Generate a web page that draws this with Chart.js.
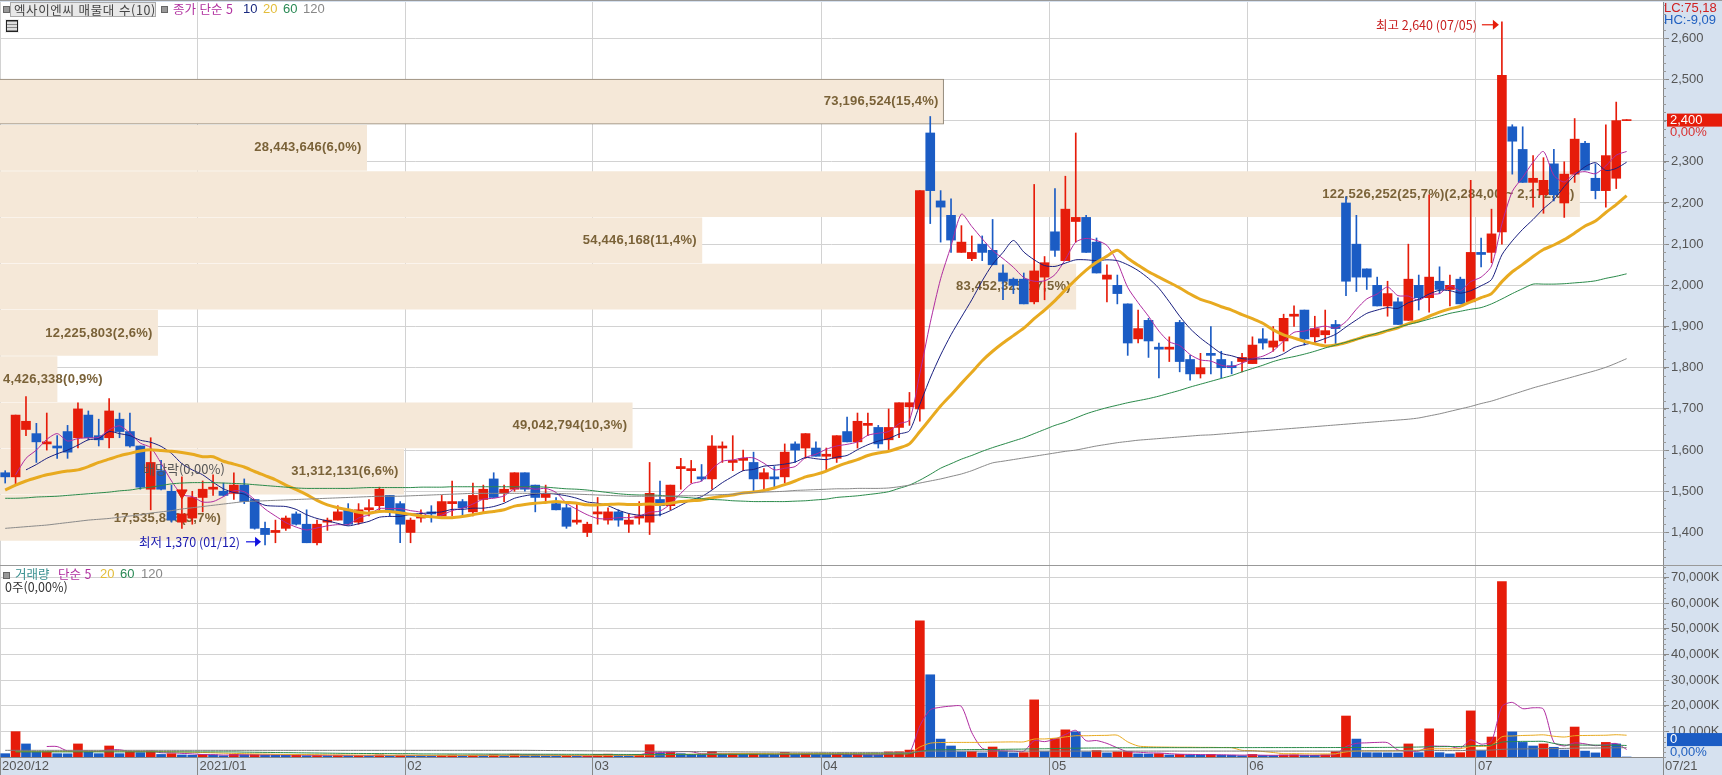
<!DOCTYPE html>
<html lang="ko"><head><meta charset="utf-8"><title>엑사이엔씨 매물대</title>
<style>
html,body{margin:0;padding:0;background:#d6e1ef;width:1722px;height:775px;overflow:hidden}
canvas{position:absolute;left:0}
#priceC{top:0}#volC{top:565px}
.t{position:absolute;font:13px "Liberation Sans","Noto Sans CJK KR",sans-serif;white-space:nowrap;line-height:14px}
.k{font-family:"Noto Sans CJK KR","Liberation Sans",sans-serif;font-size:12.5px}
.b{position:absolute;width:5px;height:5px;background:#999;border:1px solid #666;box-sizing:content-box}
</style>
<script src="https://cdn.jsdelivr.net/npm/chart.js@4"></script>
</head><body>
<canvas id="priceC" width="1722" height="565"></canvas>
<canvas id="volC" width="1722" height="210"></canvas>
<div class="b" style="left:3px;top:6px"></div>
<div class="t k" style="left:10px;top:2px;width:141px;height:13px;background:#e8e8e8;border:1px solid #aaa;padding-left:3px;color:#444;letter-spacing:.6px">엑사이엔씨 매물대 수(10)</div>
<div class="b" style="left:161px;top:6px"></div>
<div class="t k" style="left:173px;top:2px;color:#b0309f">종가 단순 5</div>
<div class="t" style="left:243px;top:2px;color:#1a2a80">10</div>
<div class="t" style="left:263px;top:2px;color:#e3bd3a">20</div>
<div class="t" style="left:283px;top:2px;color:#2a8a55">60</div>
<div class="t" style="left:303px;top:2px;color:#888">120</div>
<div style="position:absolute;left:6px;top:20px;width:10px;height:10px;border:1px solid #222;outline:1px solid #eee;background:repeating-linear-gradient(0deg,#888 0 1px,#ddd 1px 3px)"></div>
<div class="b" style="left:3px;top:572px"></div>
<div class="t k" style="left:15px;top:567px;color:#3a9090">거래량</div>
<div class="t k" style="left:58px;top:567px;color:#b0309f">단순 5</div>
<div class="t" style="left:100px;top:567px;color:#e3bd3a">20</div>
<div class="t" style="left:120px;top:567px;color:#2a8a55">60</div>
<div class="t" style="left:141px;top:567px;color:#888">120</div>
<div class="t k" style="left:5px;top:580px;color:#333">0주(0,00%)</div>
<div class="t" style="left:1664px;top:1px;color:#d02020">LC:75,18</div>
<div class="t" style="left:1664px;top:13px;color:#2060c0">HC:-9,09</div>
<script>
const dates=['12/03','12/04','12/07','12/08','12/09','12/10','12/11','12/14','12/15','12/16','12/17','12/18','12/21','12/22','12/23','12/24','12/28','12/29','12/30',
'01/04','01/05','01/06','01/07','01/08','01/11','01/12','01/13','01/14','01/15','01/18','01/19','01/20','01/21','01/22','01/25','01/26','01/27','01/28','01/29',
'02/01','02/02','02/03','02/04','02/05','02/08','02/09','02/10','02/15','02/16','02/17','02/18','02/19','02/22','02/23','02/24','02/25','02/26',
'03/02','03/03','03/04','03/05','03/08','03/09','03/10','03/11','03/12','03/15','03/16','03/17','03/18','03/19','03/22','03/23','03/24','03/25','03/26','03/29','03/30','03/31',
'04/01','04/02','04/05','04/06','04/07','04/08','04/09','04/12','04/13','04/14','04/15','04/16','04/19','04/20','04/21','04/22','04/23','04/26','04/27','04/28','04/29','04/30',
'05/03','05/04','05/06','05/07','05/10','05/11','05/12','05/13','05/14','05/17','05/18','05/20','05/21','05/24','05/25','05/26','05/27','05/28','05/31',
'06/01','06/02','06/03','06/04','06/07','06/08','06/09','06/10','06/11','06/14','06/15','06/16','06/17','06/18','06/21','06/22','06/23','06/24','06/25','06/28','06/29','06/30',
'07/01','07/02','07/05','07/06','07/07','07/08','07/09','07/12','07/13','07/14','07/15','07/16','07/19','07/20','07/21','','',''];
const monthCells=[0,19,39,57,79,101,120,142,160];
const monthLabels=['2020/12','2021/01','02','03','04','05','06','07','07/21'];
const opens=[1545,1535,1650,1640,1615,1610,1645,1630,1685,1635,1630,1675,1645,1610,1505,1550,1500,1425,1435,1485,1505,1500,1495,1515,1480,1410,1400,1410,1445,1420,1375,1425,1430,1455,1425,1455,1465,1490,1470,1400,1435,1450,1440,1470,1475,1450,1480,1530,1495,1505,1545,1515,1485,1470,1460,1425,1400,1445,1430,1450,1420,1435,1425,1480,1465,1555,1550,1535,1530,1605,1570,1575,1570,1530,1535,1535,1615,1605,1605,1585,1580,1645,1620,1660,1655,1625,1655,1705,1700,2370,2205,2170,2080,2065,2100,2085,2030,2015,2015,1960,2020,2130,2060,2155,2165,2105,2015,2000,1955,1870,1915,1850,1845,1910,1820,1785,1835,1820,1805,1815,1810,1870,1850,1865,1925,1940,1875,1880,1905,2200,2100,2040,2000,1950,1960,1915,2000,1970,2010,1990,2015,1960,2080,2080,2130,2385,2330,2250,2220,2295,2200,2270,2345,2260,2230,2260,2400];
const highs=[1550,1685,1730,1665,1690,1635,1660,1715,1695,1675,1725,1690,1690,1610,1630,1575,1515,1535,1500,1525,1540,1520,1545,1530,1480,1425,1430,1440,1450,1455,1430,1435,1465,1470,1470,1480,1510,1490,1475,1435,1455,1465,1490,1525,1480,1520,1515,1545,1515,1545,1545,1515,1515,1485,1475,1470,1425,1485,1460,1455,1445,1475,1570,1525,1515,1580,1575,1565,1635,1620,1635,1600,1595,1555,1560,1615,1620,1640,1620,1605,1635,1680,1690,1690,1660,1700,1715,1740,2230,2410,2230,2210,2145,2120,2120,2160,2050,2018,2030,2245,2070,2235,2265,2370,2170,2115,2050,2025,1955,1940,1920,1860,1875,1915,1830,1835,1900,1840,1815,1835,1875,1895,1900,1930,1950,1940,1925,1940,1915,2215,2170,2040,2020,2010,1970,2100,2025,2220,2045,2025,2020,2255,2115,2185,2640,2390,2385,2315,2310,2330,2300,2405,2350,2295,2390,2445,2400];
const lows=[1520,1515,1635,1570,1600,1580,1580,1605,1625,1610,1605,1630,1607,1505,1455,1503,1425,1410,1420,1450,1490,1488,1480,1470,1408,1370,1375,1405,1418,1375,1370,1405,1430,1418,1420,1440,1450,1440,1375,1375,1425,1425,1440,1440,1440,1440,1450,1485,1475,1500,1500,1450,1475,1455,1410,1420,1390,1420,1420,1415,1400,1420,1395,1440,1455,1505,1520,1525,1505,1570,1550,1550,1500,1505,1510,1520,1570,1580,1585,1550,1570,1620,1605,1635,1605,1600,1630,1660,1670,2150,2105,2080,2080,2060,2060,2050,1965,1980,1955,1955,1965,2070,2060,2105,2080,2030,1960,1955,1830,1860,1825,1775,1815,1790,1770,1775,1785,1775,1785,1790,1810,1845,1840,1840,1900,1855,1860,1860,1855,1975,1985,1990,1950,1925,1905,1915,1940,1935,1980,1950,1955,1960,2045,2055,2100,2270,2250,2190,2175,2205,2165,2250,2280,2210,2190,2235,2400];
const closes=[1535,1685,1670,1620,1620,1605,1595,1700,1630,1625,1695,1645,1610,1510,1570,1505,1430,1445,1485,1505,1510,1490,1515,1475,1410,1395,1405,1435,1420,1375,1420,1430,1450,1420,1455,1460,1505,1450,1420,1430,1440,1445,1475,1475,1460,1490,1505,1485,1505,1545,1505,1485,1495,1455,1415,1430,1420,1450,1450,1430,1430,1440,1495,1465,1515,1560,1555,1530,1610,1610,1575,1580,1530,1545,1530,1595,1600,1640,1585,1590,1635,1620,1670,1665,1615,1655,1715,1715,2230,2230,2190,2110,2105,2080,2080,2050,2010,2000,1955,2035,2055,2085,2185,2165,2080,2030,2025,1980,1860,1895,1865,1845,1850,1815,1785,1800,1830,1800,1800,1825,1855,1860,1865,1920,1930,1870,1895,1890,1895,2010,2020,2020,1950,1980,1905,2015,1970,2020,1990,2000,1955,2080,2075,2125,2510,2350,2250,2260,2255,2220,2270,2355,2280,2230,2315,2400,2400];
const ma5=[null,1540,1580,1600,1626,1640,1622,1628,1630,1631,1649,1659,1641,1617,1606,1568,1525,1492,1487,1474,1475,1487,1501,1499,1480,1457,1440,1424,1413,1406,1411,1416,1419,1419,1435,1443,1458,1458,1458,1453,1449,1437,1442,1453,1459,1469,1481,1483,1489,1506,1509,1505,1507,1497,1471,1456,1443,1434,1433,1436,1436,1440,1449,1452,1469,1495,1518,1525,1554,1573,1576,1581,1581,1568,1552,1556,1560,1582,1590,1602,1610,1614,1620,1636,1641,1645,1664,1673,1786,1909,2016,2095,2173,2143,2113,2085,2065,2044,2019,2010,2011,2026,2063,2105,2114,2109,2097,2056,1995,1958,1925,1889,1863,1854,1832,1819,1816,1806,1803,1811,1822,1828,1841,1865,1886,1889,1896,1901,1896,1912,1942,1967,1979,1996,1975,1974,1964,1978,1980,1999,1987,2009,2020,2047,2149,2228,2262,2299,2325,2267,2251,2272,2276,2271,2290,2316,2325];
const ma10=[null,null,1552,1565,1580,1591,1600,1612,1625,1628,1645,1640,1635,1624,1619,1609,1592,1567,1552,1540,1522,1506,1497,1493,1477,1466,1464,1463,1456,1443,1434,1428,1422,1416,1421,1427,1437,1439,1439,1444,1446,1448,1450,1456,1456,1459,1459,1463,1471,1483,1489,1493,1495,1493,1489,1483,1474,1471,1465,1454,1446,1442,1442,1443,1453,1466,1479,1487,1503,1521,1536,1550,1553,1561,1563,1566,1571,1582,1579,1577,1583,1587,1601,1613,1622,1628,1639,1647,1711,1775,1831,1880,1923,1965,2011,2051,2080,2109,2081,2062,2048,2046,2054,2062,2062,2060,2062,2060,2050,2036,2017,1993,1960,1925,1895,1872,1853,1835,1829,1822,1821,1822,1824,1834,1849,1856,1862,1871,1881,1899,1916,1932,1940,1946,1944,1958,1966,1979,1988,1987,1981,1987,1999,2014,2074,2108,2136,2160,2186,2208,2240,2267,2288,2298,2279,2284,2299];
const ma20=[1503,1515,1525,1533,1540,1545,1549,1552,1560,1570,1578,1586,1592,1598,1601,1599,1597,1594,1590,1584,1584,1573,1566,1559,1548,1538,1528,1515,1504,1492,1478,1467,1460,1455,1449,1447,1451,1451,1448,1444,1440,1438,1436,1436,1439,1443,1448,1451,1455,1464,1468,1471,1473,1475,1473,1471,1467,1467,1468,1469,1468,1468,1469,1468,1471,1475,1477,1479,1484,1488,1491,1496,1498,1502,1508,1516,1525,1535,1541,1549,1560,1569,1577,1587,1593,1597,1605,1615,1645,1676,1707,1734,1762,1789,1817,1840,1860,1878,1896,1919,1940,1963,1989,2014,2037,2056,2071,2085,2066,2049,2033,2020,2007,1994,1979,1966,1958,1948,1940,1929,1919,1908,1892,1880,1872,1864,1858,1853,1855,1861,1869,1877,1882,1890,1897,1907,1914,1925,1935,1943,1949,1960,1970,1980,2009,2033,2051,2070,2087,2098,2111,2127,2144,2156,2177,2196,2218];
const ma60=[1483,1483,1484,1486,1487,1488,1490,1492,1494,1496,1498,1501,1503,1507,1510,1514,1518,1520,1521,1521,1521,1520,1519,1518,1516,1514,1512,1510,1508,1507,1507,1507,1507,1507,1508,1509,1509,1509,1509,1509,1510,1510,1510,1511,1511,1511,1511,1511,1511,1511,1511,1511,1510,1508,1506,1505,1503,1500,1497,1494,1492,1491,1491,1490,1488,1486,1484,1482,1480,1479,1477,1476,1475,1475,1475,1475,1476,1477,1479,1481,1485,1487,1489,1492,1495,1499,1507,1515,1527,1541,1556,1567,1578,1587,1597,1606,1614,1622,1630,1640,1650,1660,1668,1678,1688,1696,1703,1709,1715,1720,1725,1731,1738,1745,1753,1760,1767,1774,1781,1790,1798,1806,1815,1822,1827,1833,1840,1848,1855,1862,1869,1876,1884,1891,1898,1905,1911,1918,1925,1932,1937,1942,1946,1955,1967,1980,1992,2003,2003,2003,2004,2006,2008,2011,2017,2022,2028];
const ma120=[1410,1412,1414,1416,1418,1421,1424,1427,1430,1432,1434,1437,1440,1443,1447,1450,1453,1457,1460,1463,1466,1469,1472,1475,1476,1477,1478,1479,1480,1481,1482,1483,1484,1485,1486,1487,1488,1488,1488,1489,1490,1491,1492,1493,1494,1495,1495,1495,1495,1495,1495,1495,1495,1495,1494,1493,1492,1491,1490,1489,1488,1488,1488,1488,1488,1489,1489,1490,1491,1492,1493,1495,1497,1498,1499,1500,1502,1503,1504,1505,1506,1506,1507,1507,1507,1508,1511,1515,1520,1525,1530,1536,1542,1550,1560,1569,1573,1577,1581,1585,1589,1593,1597,1600,1605,1610,1614,1618,1621,1624,1626,1628,1630,1632,1634,1636,1637,1639,1641,1643,1645,1647,1649,1651,1653,1655,1657,1659,1661,1663,1665,1667,1669,1671,1673,1675,1678,1683,1688,1694,1700,1706,1713,1719,1727,1735,1743,1751,1758,1765,1772,1779,1786,1793,1801,1811,1822];
const exRightsMark=dates.map(d=>d==='12/29'?1496:null);
const volumes=[1300,9900,5100,2000,2100,1300,1250,5100,2000,1300,4300,1300,2000,1700,2300,1000,1300,800,700,1000,800,500,1000,900,1000,800,750,700,900,500,600,450,700,500,650,400,800,500,700,600,450,400,700,800,500,700,600,900,500,1100,800,700,500,450,600,350,450,1000,1100,700,500,1000,4800,1500,1800,1300,900,800,2200,1100,1300,1000,1300,900,800,1800,1000,1300,900,850,1000,800,900,800,750,2000,2050,2700,53200,32100,7000,4300,2000,2100,1600,3900,2300,1600,1700,22300,2100,7200,10600,9800,2000,2500,1600,2000,2100,1200,1150,1300,800,1000,850,800,1000,700,650,500,1000,600,550,800,850,700,650,850,2100,16000,7000,1700,1650,1600,1550,5100,1700,11000,1700,1200,1700,18000,2500,7800,68500,9800,5700,4300,5100,3800,2700,11700,2300,1600,5700,5100,0];
const vma5=[null,null,null,null,4100,4080,2350,2350,2350,2190,2790,2800,2180,2120,2320,1660,1660,1420,1220,960,920,760,800,840,840,840,890,830,830,730,690,630,630,550,580,540,610,570,610,600,610,530,570,590,570,620,660,700,640,760,780,900,720,710,610,520,470,570,700,720,750,860,1620,1700,1920,2080,2060,1260,1400,1260,1260,1280,1380,1120,1060,1160,1160,1160,1160,1170,1010,970,890,870,850,1050,1300,1660,12140,18410,19410,19860,19720,9500,3400,2780,2380,2300,2220,6360,6000,6980,8780,10400,6340,6420,5300,3580,2040,1880,1610,1550,1310,1090,1020,950,890,870,800,730,770,690,660,690,760,700,710,770,1030,4060,5320,5530,5690,5590,2700,2320,2320,4190,4210,4140,3460,6720,5020,6240,19700,21320,18860,19220,18680,5740,4320,5520,5120,4420,4800,5280,2940];
const vma20=[null,2100,2100,2100,2100,2200,2200,2250,2250,2250,2300,2300,2250,2250,2200,2150,2050,1950,1850,1750,1650,1500,1400,1300,1200,1150,1050,1000,950,950,900,850,800,800,750,750,750,700,700,700,650,650,650,650,660,660,660,670,670,680,680,680,680,670,670,660,660,660,670,670,680,720,850,900,950,1000,1050,1100,1150,1250,1300,1350,1350,1350,1300,1300,1300,1350,1350,1350,1350,1350,1350,1300,1300,1300,1350,1400,3900,5400,5650,5700,5700,5700,5700,5800,5850,5900,5900,7000,7050,7350,7850,8300,8300,8400,8450,8500,5900,4300,4000,3900,3850,3800,3800,3750,3750,3700,3650,2600,2500,2150,1750,1300,1300,1250,1200,1200,1250,2000,2300,2350,2350,2350,2400,2600,2650,3150,3200,3200,3250,4100,4150,4500,7900,8200,8400,8500,8650,8100,7800,8300,8400,8450,8500,8700,8500];
const vma60=[null,2000,2000,2000,2000,2000,2000,2000,2000,2000,2000,2000,2000,2000,2000,2000,2000,2000,2000,2000,2000,2000,2000,1900,1850,1800,1750,1700,1650,1600,1550,1500,1450,1400,1380,1360,1340,1320,1300,1300,1200,1190,1180,1170,1160,1150,1140,1130,1120,1110,1100,1090,1080,1070,1060,1050,1040,1030,1020,1010,1000,1000,1000,1000,1010,1020,1020,1030,1030,1040,1050,1060,1070,1080,1090,1100,1110,1120,1130,1140,1150,1160,1170,1180,1190,1200,1220,1300,2200,2700,2800,2850,2850,2900,2900,2950,3000,3050,3100,3200,3200,3300,3400,3450,3500,3520,3550,3600,3600,3620,3630,3640,3650,3650,3650,3650,3660,3660,3660,3670,3670,3680,3680,3680,3680,3690,3690,3690,3700,3700,3700,3720,3740,3760,3780,3850,3880,4000,4050,4080,4100,4400,4450,4600,5800,6000,6100,6100,6100,5300,4700,4700,4650,4650,4600,4600,4500];
const vma120=[2600,2600,2600,2600,2600,2600,2600,2600,2600,2600,2600,2600,2600,2600,2600,2600,2600,2600,2600,2600,2600,2600,2600,2600,2600,2600,2600,2600,2600,2600,2600,2600,2600,2600,2600,2600,2600,2600,2600,2600,2600,2600,2600,2600,2600,2600,2600,2600,2600,2600,2600,2570,2540,2510,2480,2450,2420,2390,2360,2330,2300,2270,2240,2210,2180,2150,2120,2090,2060,2030,2000,1980,1960,1940,1920,1900,1880,1860,1840,1820,1800,1800,1800,1800,1800,1800,1800,1800,2200,2300,2300,2300,2300,2300,2300,2300,2300,2300,2300,2300,2300,2300,2300,2300,2300,2300,2300,2300,2300,2300,2300,2300,2300,2300,2300,2300,2300,2300,2300,2300,2300,2300,2300,2300,2300,2300,2300,2300,2300,2350,2400,2400,2400,2400,2400,2420,2420,2500,2500,2500,2500,2650,2650,2700,3000,3100,3150,3200,3250,3300,3350,3450,3500,3500,3550,3600,3650];
const profileMid=[2446,2333.7,2221.4,2109.1,1996.8,1884.5,1772.2,1659.9,1547.6,1435.3];
const profileVol=[73196524,28443646,122526252,54446168,83452325,12225803,4426338,49042794,31312131,17535846];
const profileText=['73,196,524(15,4%)','28,443,646(6,0%)','122,526,252(25,7%)(2,284,00 ~ 2,172,00)','54,446,168(11,4%)','83,452,325(17,5%)','12,225,803(2,6%)','4,426,338(0,9%)','49,042,794(10,3%)','31,312,131(6,6%)','17,535,846(3,7%)'];
const priceTicks=[1400,1500,1600,1700,1800,1900,2000,2100,2200,2300,2400,2500,2600];
const volumeTicks=[10000,20000,30000,40000,50000,60000,70000];

const RED='#e61c0a',BLUE='#1b5cc4',BAND='#f5e8d8',GRID='#d2d2d2',AXIS='#888';
const FONT='"Liberation Sans","Noto Sans CJK KR",sans-serif';
const KFONT='"Noto Sans CJK KR","Liberation Sans",sans-serif';
const candleCol=closes.map((c,i)=>c>=opens[i]?RED:BLUE);
const volCol=volumes.map((v,i)=>i>0&&v>volumes[i-1]?RED:BLUE);

const noPad=s=>{s.paddingLeft=s.paddingRight=s.paddingTop=s.paddingBottom=0;};
function line(data,color,w){return {type:'line',data,borderColor:color,borderWidth:w,pointRadius:0,tension:.25,spanGaps:false,order:1,xAxisID:'x',yAxisID:'y'};}
function monthAxis(withLabels){return {type:'linear',position:'bottom',min:0,max:160,offset:false,
  afterBuildTicks:s=>{s.ticks=monthCells.map(v=>({value:v}));},
  afterFit:s=>{s.height=withLabels?18:0;noPad(s);},
  border:{display:withLabels,color:AXIS},
  grid:{offset:false,color:GRID,lineWidth:1,drawTicks:withLabels,tickLength:18,tickColor:AXIS},
  ticks:{display:withLabels,autoSkip:false,maxRotation:0,align:'start',padding:-16,labelOffset:2,color:'#555',font:{family:FONT,size:13},
    callback:(v,i)=>monthLabels[i]}};}
function valueAxis(min,max,list){return {type:'linear',position:'right',min,max,offset:false,
  afterBuildTicks:s=>{s.ticks=list.map(v=>({value:v}));},
  afterFit:s=>{s.width=59;noPad(s);},
  border:{color:AXIS},
  grid:{offset:false,color:GRID,tickColor:AXIS,tickLength:6}};}
const bgPlugin={id:'bg',beforeDraw(c){const a=c.chartArea,g=c.ctx;g.save();g.fillStyle='#fff';g.fillRect(a.left,a.top,a.right-a.left,a.bottom-a.top);g.fillStyle='#999';g.fillRect(0,0,c.width,1);g.restore();}};
function minorPlugin(step,len){return {id:'minor',afterDraw(c){const s=c.scales.y,g=c.ctx;g.save();g.strokeStyle='#999';g.lineWidth=1;g.beginPath();
  for(let v=Math.ceil(s.min/step)*step;v<=s.max;v+=step){const y=Math.round(s.getPixelForValue(v))+.5;g.moveTo(s.left,y);g.lineTo(s.left+len,y);}
  g.stroke();g.restore();}};}
function arrow(g,x0,x1,y,color){g.strokeStyle=color;g.fillStyle=color;g.lineWidth=1.2;g.beginPath();g.moveTo(x0,y);g.lineTo(x1-5,y);g.stroke();g.beginPath();g.moveTo(x1-6,y-5);g.lineTo(x1,y);g.lineTo(x1-6,y+5);g.closePath();g.fill();}

const bandTextPlugin={id:'bandText',afterDatasetDraw(c,args){ if(args.index!==0)return;
  const g=c.ctx,xP=c.scales.xP,y=c.scales.y;g.save();g.font='bold 13px '+FONT;g.letterSpacing='0.25px';g.fillStyle='#7a6238';g.textAlign='right';g.textBaseline='middle';
  profileVol.forEach((v,i)=>{const w=g.measureText(profileText[i]).width;
    g.fillText(profileText[i],Math.max(xP.getPixelForValue(v)-5,w+3),y.getPixelForValue(profileMid[i]));});
  g.restore();}};
const notePlugin={id:'notes',afterDraw(c){const g=c.ctx,x=c.scales.x,y=c.scales.y;g.save();g.textBaseline='middle';
  const hi=Math.max(...highs),hiI=highs.indexOf(hi),lo=Math.min(...lows),loI=lows.indexOf(lo);
  g.font='12.5px '+KFONT;g.fillStyle='#c81e1e';g.textAlign='right';
  const hx=x.getPixelForValue(hiI),hy=y.getPixelForValue(hi)+3;
  g.fillText('최고 2,640 (07/05)',hx-25,hy);arrow(g,hx-20,hx-3,hy,'#e61c0a');
  g.fillStyle='#1a1ab0';const lx=x.getPixelForValue(loI),ly=y.getPixelForValue(lo)-3;
  g.fillText('최저 1,370 (01/12)',lx-25,ly);arrow(g,lx-19,lx-4,ly,'#1010e0');
  g.fillStyle='#555';g.textAlign='left';g.font='13px '+KFONT;
  g.fillText('배당락(0,00%)',143,y.getPixelForValue(1555));
  const py=y.getPixelForValue(closes[closes.length-1]);
  g.fillStyle=RED;g.fillRect(1667,py-7,55,13);g.fillStyle='#fff';g.font='13px '+FONT;g.fillText('2,400',1670,py);
  g.fillStyle='#d83030';g.fillText('0,00%',1670,py+12);
  g.restore();}};
const volNotePlugin={id:'volNotes',afterDraw(c){const g=c.ctx,y=c.scales.y;g.save();const py=y.getPixelForValue(7000);
  g.fillStyle=BLUE;g.fillRect(1667,py-6,55,13);g.fillStyle='#fff';g.textBaseline='middle';g.font='13px '+FONT;g.fillText('0',1670,py);
  g.fillStyle='#2060c0';g.fillText('0,00%',1670,py+13);g.restore();}};

new Chart(document.getElementById('priceC'),{type:'bar',
 data:{labels:dates,datasets:[
  {type:'bar',indexAxis:'y',xAxisID:'xP',yAxisID:'y',order:5,grouped:false,barThickness:45,
   data:profileMid.map((m,i)=>({x:profileVol[i],y:m})),backgroundColor:BAND,
   borderColor:profileMid.map((m,i)=>i===0?'#8c8272':'rgba(0,0,0,0)'),borderWidth:profileMid.map((m,i)=>i===0?1:0),borderSkipped:'left'},
  {type:'bar',xAxisID:'x',yAxisID:'y',order:4,grouped:false,barThickness:1,data:lows.map((l,i)=>[l,highs[i]]),backgroundColor:candleCol,minBarLength:1},
  {type:'bar',xAxisID:'x',yAxisID:'y',order:3,grouped:false,barThickness:9,data:opens.map((o,i)=>[o,closes[i]]),backgroundColor:candleCol,minBarLength:1},
  line(ma120,'#8a8a8a',1),line(ma60,'#2a8a4a',1),line(ma20,'#e8aa20',3),line(ma10,'#1a2080',1),line(ma5,'#b02ca0',1),
  {type:'line',data:exRightsMark,showLine:false,pointStyle:'triangle',rotation:180,pointRadius:6,pointBackgroundColor:RED,pointBorderColor:RED,order:0,xAxisID:'x',yAxisID:'y'}
 ]},
 options:{responsive:false,animation:false,devicePixelRatio:1,layout:{autoPadding:false,padding:{top:2,left:0,right:0,bottom:0}},
  plugins:{legend:{display:false},tooltip:{enabled:false},title:{display:false}},
  scales:{
   x:{type:'category',display:false,offset:true},
   xP:{type:'linear',display:false,offset:false,min:0,max:129000000},
   xM:monthAxis(false),
   y:{...valueAxis(1321,2688,priceTicks),ticks:{color:'#555',padding:2,font:{family:FONT,size:13},callback:v=>v.toLocaleString('en-US')}}
  }},
 plugins:[bgPlugin,bandTextPlugin,notePlugin,minorPlugin(20,3)]});

new Chart(document.getElementById('volC'),{type:'bar',
 data:{labels:dates,datasets:[
  {type:'bar',xAxisID:'x',yAxisID:'y',order:3,grouped:false,barThickness:9,data:volumes,backgroundColor:volCol},
  line(vma120,'#7a7a7a',1),line(vma60,'#2a8a4a',1),line(vma20,'#e8aa20',1),line(vma5,'#b02ca0',1)
 ]},
 options:{responsive:false,animation:false,devicePixelRatio:1,layout:{autoPadding:false,padding:{top:1,left:0,right:0,bottom:0}},
  plugins:{legend:{display:false},tooltip:{enabled:false}},
  scales:{
   x:{type:'category',display:false,offset:true},
   xM:monthAxis(true),
   y:{...valueAxis(0,74560,volumeTicks),ticks:{color:'#555',padding:2,font:{family:FONT,size:13},callback:v=>v.toLocaleString('en-US')+'K'}}
  }},
 plugins:[bgPlugin,volNotePlugin,minorPlugin(2000,3)]});
</script>
</body></html>
